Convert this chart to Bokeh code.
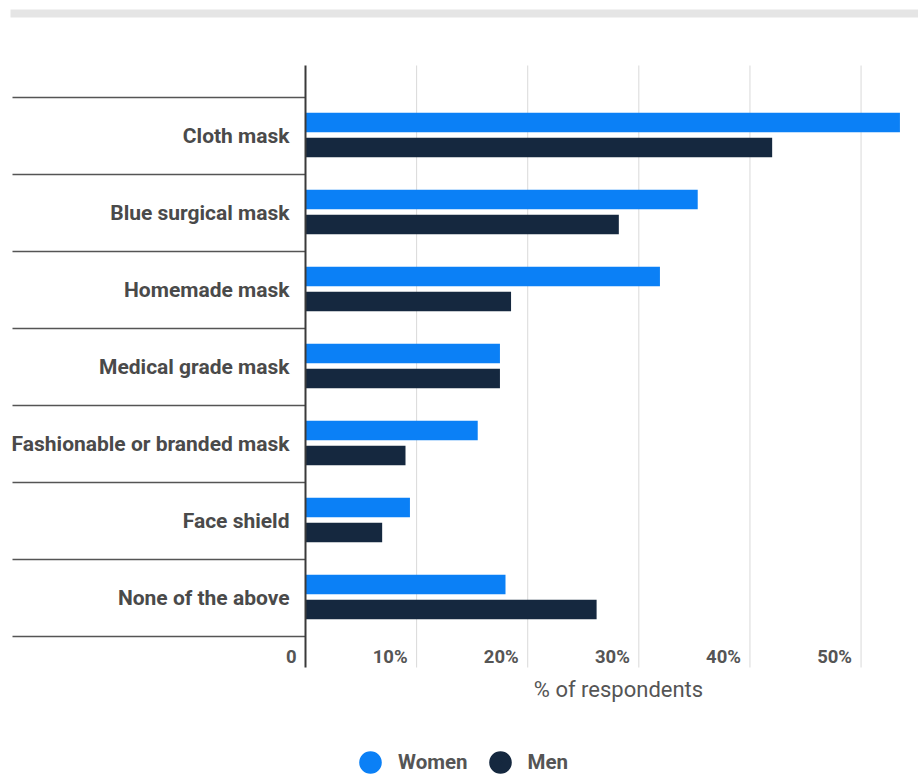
from bokeh.plotting import figure
from bokeh.models import (Range1d, ColumnDataSource, Legend, LegendItem, BoxAnnotation)
from bokeh.core.properties import value
from bokeh.embed import file_html
from bokeh.resources import INLINE

# ---- data ----
categories = ["Cloth mask", "Blue surgical mask", "Homemade mask", "Medical grade mask",
              "Fashionable or branded mask", "Face shield", "None of the above"]
women = [53.5, 35.3, 31.9, 17.5, 15.5, 9.4, 18.0]
men = [42.0, 28.2, 18.5, 17.5, 9.0, 6.9, 26.2]
tick_values = [0, 10, 20, 30, 40, 50]
tick_labels = ["0", "10%", "20%", "30%", "40%", "50%"]
series_names = ["Women", "Men"]
axis_title = "% of respondents"
colors = ["#0b80f6", "#15283f"]

FONT = "Roboto"
W, H = 918, 775
n = len(categories)

# layout geometry (pixels) -> data units
X0_PX, UNIT_X = 305, 11.111        # x pixel of 0 %, pixels per 1 %
Y0_PX, UNIT_Y = 97, 77.0           # y pixel of first band top, pixels per band


def xv(px):
    return (px - X0_PX) / UNIT_X


def yv(px):
    return (px - Y0_PX) / UNIT_Y


p = figure(width=W, height=H, output_backend="svg", toolbar_location=None,
           x_range=Range1d(xv(0), xv(W)), y_range=Range1d(yv(H), yv(0)),
           min_border=0, outline_line_color=None)
p.axis.visible = False
p.grid.visible = False
p.title.visible = False
p.background_fill_color = "white"
p.border_fill_color = "white"

plot_top, plot_bottom = yv(65), yv(667)

# gridlines
p.segment(x0=tick_values[1:], x1=tick_values[1:], y0=plot_top, y1=plot_bottom,
          line_color="#d9d9d9", line_width=1)

# band separators in label area
bounds = list(range(n + 1))
p.segment(x0=xv(12), x1=0, y0=bounds, y1=bounds, line_color="#555555", line_width=1.5)

idx = list(range(n))
src = ColumnDataSource(dict(
    cat=categories,
    yc=[i + 0.5 for i in idx],
    yw=[i + 0.325 for i in idx],
    ym=[i + 0.65 for i in idx],
    women=women, men=men))

p.hbar(y="yw", left=0, right="women", height=0.255, source=src,
       fill_color=colors[0], line_color=None)
p.hbar(y="ym", left=0, right="men", height=0.255, source=src,
       fill_color=colors[1], line_color=None)

# value axis line
p.segment(x0=0, x1=0, y0=plot_top, y1=plot_bottom, line_color="#3a3a3a", line_width=2)

# category labels
p.text(x=0, y="yc", text="cat", source=src, x_offset=-16, text_align="right",
       text_baseline="middle", text_font=value(FONT), text_font_style="bold",
       text_font_size="21px", text_color="#4a4a4a")

# x tick labels
tsrc = ColumnDataSource(dict(x=tick_values, t=tick_labels))
p.text(x="x", y=yv(656), text="t", source=tsrc, x_offset=-9, text_align="right",
       text_baseline="middle", text_font=value(FONT), text_font_style="bold",
       text_font_size="18.5px", text_color="#555555")

# axis title
p.text(x=[xv(618)], y=[yv(689)], text=[axis_title], text_align="center",
       text_baseline="middle", text_font=value(FONT), text_font_style="normal",
       text_font_size="22px", text_color="#555555")

# legend (dummy renderers only provide the legend glyphs)
nan = float("nan")
lsrc = ColumnDataSource(dict(x=[nan], y=[nan]))
r_w = p.scatter(x="x", y="y", source=lsrc, marker="circle", size=10,
                fill_color=colors[0], line_color=colors[0], line_width=13)
r_m = p.scatter(x="x", y="y", source=lsrc, marker="circle", size=10,
                fill_color=colors[1], line_color=colors[1], line_width=13)
legend = Legend(items=[LegendItem(label=series_names[0], renderers=[r_w], index=0),
                       LegendItem(label=series_names[1], renderers=[r_m], index=0)],
                orientation="horizontal", location=(358, 1),
                glyph_width=24, glyph_height=24, label_standoff=16, spacing=20,
                padding=0, margin=0, border_line_color=None, background_fill_alpha=0,
                label_text_font=FONT, label_text_font_style="bold",
                label_text_font_size="20.5px", label_text_color="#555555")
p.add_layout(legend, "center")

# top rule
p.add_layout(BoxAnnotation(left=10, right=W, top=9, bottom=17,
                           left_units="canvas", right_units="canvas",
                           top_units="canvas", bottom_units="canvas",
                           fill_color="#e5e5e5", fill_alpha=1, line_color=None))

open("out.html", "w").write(file_html(p, INLINE))
